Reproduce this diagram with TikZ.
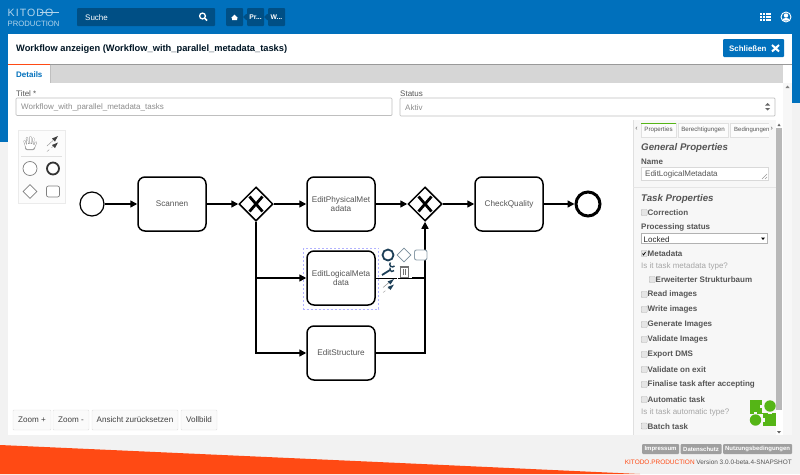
\documentclass[tikz,border=0pt]{standalone}
\usepackage{fontspec}
\setmainfont{Liberation Sans}
\usetikzlibrary{arrows.meta,shapes.geometric}
\definecolor{kblue}{HTML}{0070BC}
\definecolor{kdark}{HTML}{004F85}
\definecolor{korange}{HTML}{FF4A14}
\definecolor{kbg}{HTML}{F2F2F2}
\definecolor{ktext}{HTML}{555555}
\definecolor{kgreen}{HTML}{55B516}
\definecolor{kslate}{HTML}{1D3F57}
\newcommand{\fs}[1]{\fontsize{#1}{#1}\selectfont}
\tikzset{
  ui/.style={inner sep=0pt,anchor=west,yshift=-0.7pt},
  task/.style={draw=black,line width=1.5pt,rounded corners=7pt,fill=white,minimum width=68pt,minimum height=54pt,inner sep=1pt,align=center,text=ktext,font=\fs{8.2}},
  gate/.style={diamond,draw=black,line width=1.5pt,fill=white,minimum width=34pt,minimum height=34pt,inner sep=0pt},
  flow/.style={draw=black,line width=1.5pt,-{Triangle[length=7pt,width=7pt]}},
  plain/.style={draw=black,line width=1.5pt},
  xmark/.style={draw=black,line width=2.8pt},
  prop/.style={ui,text=ktext,font=\fs{8}\bfseries},
  chk/.style={draw=gray!60,fill=gray!20,rounded corners=0.8pt,minimum width=6pt,minimum height=6pt,inner sep=0pt,anchor=west},
  btn/.style={draw=black!12,fill=black!2,rounded corners=1pt,text=black!75,font=\fs{8.1},inner sep=0pt,minimum height=20pt},
  crumb/.style={fill=kdark,rounded corners=1pt,text=white,font=\fs{6.8}\bfseries,inner sep=0pt,minimum width=17pt,minimum height=18pt},
  foot/.style={fill=gray!75,text=white,rounded corners=1pt,font=\fs{6}\bfseries,inner sep=0pt,minimum height=10pt},
  tabb/.style={draw=black!12,fill=black!1,text=ktext,font=\fs{6.2},inner sep=0pt,minimum height=14pt},
  field/.style={draw=black!25,fill=white,rounded corners=1pt,line width=0.7pt},
  pal/.style={draw=black!50,line width=0.7pt,fill=white},
}
\begin{document}
\begin{tikzpicture}[x=1pt,y=-1pt]
\useasboundingbox (0,0) rectangle (800,474);
% page
\fill[kbg] (0,0) rectangle (800,474);
\fill[kblue] (0,0) rectangle (800,34);
\fill[kblue] (0,34) rectangle (8,142);
\fill[kblue] (792,34) rectangle (800,103);
\fill[korange] (0,445) -- (400,463) -- (640,474) -- (0,474) -- cycle;
\fill[white] (8,34) rectangle (792,435);
\draw[black!40,line width=1pt] (8,64.5) -- (792,64.5);
\fill[black!16] (50,65) rectangle (783,83);
\fill[korange] (8,63.5) rectangle (50,65);
\draw[black!25,line width=0.5pt] (50,65) -- (50,83);
% header
\node[ui,text=white!70!kblue,font=\fs{10.6}\addfontfeature{LetterSpace=10}] (logoa) at (7.5,12.5) {KITODO};
\draw[white!70!kblue,line width=0.6pt] (40,12) -- (59,12);
\node[ui,text=white!70!kblue,font=\fs{7.7}] (logob) at (7.5,23) {PRODUCTION};
\fill[kdark,rounded corners=1pt] (77,8) rectangle (215,26);
\node[ui,text=white,font=\fs{8}] (suche) at (85,17) {Suche};
\draw[white,line width=1.3pt] (202.5,16) circle (2.9pt);
\draw[white,line width=1.5pt] (204.7,18.2) -- (207,20.5);
\node[crumb] (c1) at (234.5,17) {};
\fill[white] (231,18) -- (234.5,14.6) -- (238,18) -- (237,18) -- (237,20) -- (232,20) -- (232,18) -- cycle;
\node[crumb] (c2) at (255.5,17) {Pr...};
\node[crumb] (c3) at (276.5,17) {W...};
\fill[kdark] (243,17) -- (246,14) -- (247,14) -- (247,20) -- (246,20) -- cycle;
\fill[kdark] (264,17) -- (267,14) -- (268,14) -- (268,20) -- (267,20) -- cycle;
\foreach \i in {0,1,2,3}{\foreach \j in {0,1,2}{\fill[white] (760.3+\i*2.7,12.5+\j*3) rectangle ++(2.1,2.4);}}
\draw[white,line width=0.9pt] (786,17) circle (5pt);
\fill[white] (786,15.5) circle (2.2pt);
\fill[white] (782.3,20.5) arc[start angle=180,end angle=0,x radius=3.7pt,y radius=2.6pt] -- cycle;
% title
\node[ui,text=black!80!kblue,font=\fs{9.3}\bfseries,yshift=-0.6pt] (title) at (16,48) {Workflow anzeigen (Workflow\_with\_parallel\_metadata\_tasks)};
\fill[kblue,rounded corners=1pt] (723,39) rectangle (784,57);
\node[ui,text=white,font=\fs{7.9}\bfseries] (close) at (729,48) {Schließen};
\draw[white,line width=2pt] (772,45) -- (779,51.5) (779,45) -- (772,51.5);
\node[ui,text=kblue,font=\fs{8}\bfseries] (details) at (16,74) {Details};
% form
\node[ui,text=ktext,font=\fs{8}] (ltitel) at (16,93) {Titel *};
\draw[field] (16,98) rectangle (392,115.5);
\node[ui,text=black!45,font=\fs{8}] (vtitel) at (21,107) {Workflow\_with\_parallel\_metadata\_tasks};
\node[ui,text=ktext,font=\fs{8}] (lstatus) at (400,93) {Status};
\draw[field] (400,98) rectangle (775,116);
\node[ui,text=black!45,font=\fs{8}] (vstatus) at (405,107) {Aktiv};
\fill[black!60] (765,105.5) -- (767.5,103) -- (770,105.5) -- cycle (765,108) -- (767.5,110.5) -- (770,108) -- cycle;
\fill[black!3] (783,83) rectangle (792,435);
\fill[black!50] (785.5,88) -- (787.5,85.5) -- (789.5,88) -- cycle;
% palette
\draw[black!8,fill=black!1] (18,130) rectangle (65,203);
\draw[black!12,line width=0.5pt] (21,156.5) -- (62,156.5);
\begin{scope}[line cap=round]
\draw[black!40,line width=2.1pt] (26,146) -- (24.5,141) (27.5,146) -- (27,138) (30,146) -- (30.5,137) (32.5,146) -- (33.5,138.5) (34,147) -- (36,142.5);
\fill[black!40,rounded corners=2pt] (25,143) rectangle (35,150);
\draw[white,line width=1.1pt] (26,146) -- (24.5,141) (27.5,146) -- (27,138) (30,146) -- (30.5,137) (32.5,146) -- (33.5,138.5) (34,147) -- (36,142.5);
\fill[white,rounded corners=1.5pt] (25.8,144) rectangle (34.2,149.2);
\end{scope}
\draw[black!40,line width=0.5pt] (47,146) -- (53,140.5);
\fill[black!75] (58,136) -- (52,138.5) -- (55,141.5) -- cycle;
\draw[black!35,line width=0.5pt,dashed] (47,151.5) -- (53,146.5);
\fill[black!75] (58,142.5) -- (52,145) -- (55,148) -- cycle;
\node[circle,pal,minimum size=14pt,inner sep=0pt] (p1) at (30,168.5) {};
\node[circle,draw=black!80,fill=white,line width=1.8pt,minimum size=12pt,inner sep=0pt] (p2) at (53,168.5) {};
\node[gate,pal,minimum width=14pt,minimum height=14pt] (p3) at (30,191.5) {};
\draw[pal,rounded corners=2pt] (46.5,186) rectangle (59.5,197);
% diagram
\node[circle,draw=black,line width=1.2pt,fill=white,minimum size=24pt,inner sep=0pt] (start) at (92,204) {};
\node[task] (t1) at (172,204) {Scannen};
\node[gate] (g1) at (256,204) {};
\node[task] (t2) at (341,204) {EditPhysicalMet\\adata};
\node[gate] (g2) at (425,204) {};
\node[task] (t5) at (509,204) {CheckQuality};
\node[circle,draw=black,line width=3pt,fill=white,minimum size=24pt,inner sep=0pt] (end) at (588,204) {};
\node[task] (t3) at (341,278) {EditLogicalMeta\\data};
\node[task] (t4) at (341,353) {EditStructure};
\draw[draw=blue!30,line width=0.6pt,dash pattern=on 2pt off 2pt] (303.5,248) rectangle (378.5,309);
\draw[flow] (start) -- (t1);
\draw[flow] (t1) -- (g1);
\draw[flow] (g1) -- (t2);
\draw[flow] (t2) -- (g2);
\draw[flow] (g2) -- (t5);
\draw[flow] (t5) -- (end);
\draw[flow] (g1.south) |- (t3.west);
\draw[flow] (g1.south) |- (t4.west);
\draw[plain] (t3.east) -- (t3.east -| g2.south);
\draw[flow] (t4.east) -| (g2.south);
\draw[xmark] ([shift={(-6.5,-7.5)}]g1.center) -- ([shift={(6.5,7.5)}]g1.center) ([shift={(6.5,-7.5)}]g1.center) -- ([shift={(-6.5,7.5)}]g1.center);
\draw[xmark] ([shift={(-6.5,-7.5)}]g2.center) -- ([shift={(6.5,7.5)}]g2.center) ([shift={(6.5,-7.5)}]g2.center) -- ([shift={(-6.5,7.5)}]g2.center);
% context pad
\draw[white,line width=0.8pt] (376,277.2) -- (412,277.2);
\draw[white,line width=1.6pt] (396.5,278) -- (398,278);
\node[circle,draw=kslate,line width=1.8pt,fill=white,minimum size=11pt,inner sep=0pt] (cp1) at (388,255) {};
\node[diamond,draw=kslate!60,line width=0.7pt,fill=white,minimum width=14pt,minimum height=14pt,inner sep=0pt] (cp2) at (404,255) {};
\draw[draw=kslate!50,line width=0.9pt,rounded corners=2pt,fill=white] (414.5,250) rectangle (427,260);
\draw[kslate,line width=1.8pt] (382,275) -- (390,270);
\draw[kslate,line width=1.4pt] (394.5,266) arc[start angle=-40,end angle=-220,radius=2.7pt];
\draw[kslate,line width=1.4pt] (390,267.7) arc[start angle=160,end angle=250,radius=3pt] -- (394,270.5);
\draw[black!55,line width=0.6pt,fill=white] (400.5,267) rectangle (408,277);
\draw[black!55,line width=0.9pt] (399.5,266.5) -- (409,266.5);
\draw[black!55,line width=0.5pt] (403,269) -- (403,275) (405.5,269) -- (405.5,275);
\draw[black!45,line width=0.5pt] (383,287.5) -- (389,282.5);
\fill[kslate] (394,279) -- (387.5,281.5) -- (390.5,284.5) -- cycle;
\draw[black!40,line width=0.4pt,dashed] (383,292.5) -- (389,288);
\fill[kslate] (394,284.5) -- (387.5,287) -- (390.5,290) -- cycle;
% zoom buttons
\node[btn,minimum width=38pt] (z1) at (32,420) {Zoom +};
\node[btn,minimum width=36pt] (z2) at (71,420) {Zoom -};
\node[btn,minimum width=86pt] (z3) at (135,420) {Ansicht zurücksetzen};
\node[btn,minimum width=36pt] (z4) at (199,420) {Vollbild};
% properties panel
\fill[black!3] (633,120) rectangle (776,435);
\draw[black!12,line width=0.5pt] (633,120) -- (633,435);
\fill[white] (776,120) rectangle (783,435);
\fill[black!28] (776,128) rectangle (782,410);
\fill[black!60] (777.5,126) -- (779,123.5) -- (780.5,126) -- cycle;
\node[text=ktext,font=\fs{7},inner sep=0pt] (tl) at (636.5,129) {‹};
\node[text=ktext,font=\fs{7},inner sep=0pt] (tr) at (771.8,129) {›};
\node[tabb,minimum width=35pt] (tab1) at (658.5,130) {Properties};
\fill[kgreen] (641,122.5) rectangle (676,123.7);
\node[tabb,minimum width=50pt] (tab2) at (703,130) {Berechtigungen};
\draw[black!12,fill=black!1] (768.5,123) -- (730,123) -- (730,137) -- (768.5,137);
\node[ui,yshift=0.7pt,text=ktext,font=\fs{6}] (tab3) at (734,130) {Bedingungen};
\node[ui,text=ktext,font=\fs{9.7}\bfseries\itshape] (gp) at (641,147) {General Properties};
\node[prop] (nm) at (641,161) {Name};
\draw[black!15,fill=white] (641,167.5) rectangle (768,180);
\node[ui,text=ktext,font=\fs{8}] (nmv) at (645,173.5) {EditLogicalMetadata};
\draw[black!40,line width=0.4pt] (762,179) -- (767,174) (765,179) -- (767,177);
\draw[black!10] (633,187) -- (776,187);
\node[ui,text=ktext,font=\fs{9.7}\bfseries\itshape] (tp) at (641,198) {Task Properties};
\node[chk] (k1) at (641,212.5) {};
\node[prop] (l1) at (647.5,212) {Correction};
\node[prop] (ps) at (641,227) {Processing status};
\draw[black!30,fill=white,line width=0.5pt] (641,233.5) rectangle (767.5,243);
\node[ui,text=black!85,font=\fs{8}] (psv) at (643.5,238.5) {Locked};
\fill[black] (761,237.5) -- (765,237.5) -- (763,240) -- cycle;
\node[chk] (k2) at (641,253.5) {};
\draw[black,line width=0.7pt] (642.5,253.5) -- (643.5,255) -- (645.5,252);
\node[prop] (l2) at (647.5,252.5) {Metadata};
\node[ui,text=black!35,font=\fs{8}] (q1) at (641,265.5) {Is it task metadata type?};
\node[chk] (k3) at (649,279.5) {};
\node[prop] (l3) at (655.5,279) {Erweiterter Strukturbaum};
\foreach \nn/\yy/\tt in {4/294/Read images,5/309/Write images,6/324/Generate Images,7/339/Validate Images,8/354/Export DMS,9/369/Validate on exit,10/384/Finalise task after accepting,11/399/Automatic task}{
  \node[chk] (k\nn) at (641,\yy.5) {};
  \node[prop] (l\nn) at (647.5,\yy) {\tt};
}
\node[ui,text=black!35,font=\fs{8}] (q2) at (641,412) {Is it task automatic type?};
\node[chk] (k12) at (641,426) {};
\node[prop] (l12) at (647.5,425.5) {Batch task};
% puzzle logo
\fill[kgreen] (750,400) rectangle (776,426);
\fill[black!3] (761.5,400) rectangle (776,412.5);
\fill[black!3] (750,413.5) rectangle (763,426);
\fill[black!3] (760,404.5) rectangle (762,408);
\fill[black!3] (754,412) rectangle (757,414);
\fill[black!3] (763,418) rectangle (765,422);
\fill[black!3] (768,411.5) rectangle (772,414);
\fill[kgreen] (770,406) circle (5.7pt);
\fill[kgreen] (755.5,420) circle (5.7pt);
\fill[black!60] (777,431) -- (781,431) -- (779,433.5) -- cycle;
% footer
\node[foot,minimum width=37pt] (f1) at (660.5,449) {Impressum};
\node[foot,minimum width=41pt] (f2) at (701,449) {Datenschutz};
\node[foot,minimum width=69pt] (f3) at (757.5,449) {Nutzungsbedingungen};
\node[ui,anchor=east,text=ktext,font=\fs{6.45}] (ver) at (792,461) {\textcolor{korange}{KITODO.PRODUCTION} Version 3.0.0-beta.4-SNAPSHOT};
\end{tikzpicture}
\end{document}
